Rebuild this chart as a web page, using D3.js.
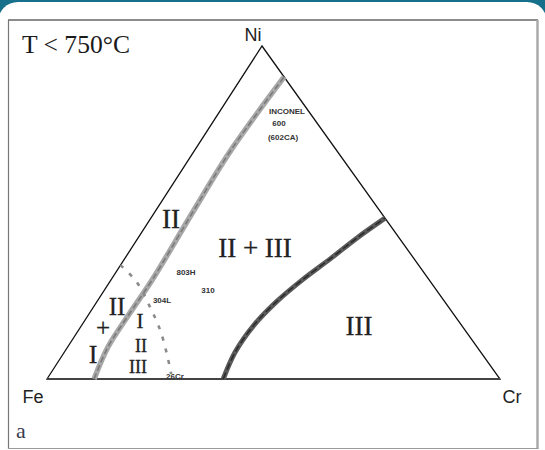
<!DOCTYPE html>
<html>
<head>
<meta charset="utf-8">
<script src="https://cdn.jsdelivr.net/npm/d3@7"></script>
<style>
  html, body { margin: 0; padding: 0; background: #16708c; }
  svg { display: block; }
</style>
</head>
<body>
<svg id="chart" width="545" height="450"></svg>
<script>
// ---- data (compositions in wt.%: Ni, Cr; Fe = balance) ----
const vertexNames = ["Fe", "Ni", "Cr"];
const vertexNi = [0, 100, 0];
const vertexCr = [0, 0, 100];

// boundary I / II (gray band)
const band1Ni = [0, 9.6, 19.8, 29.7, 50, 68.8, 90.7];
const band1Cr = [10.4, 8.9, 8.9, 9.1, 8.4, 8.0, 9.3];

// boundary II+III / III
const band2Ni = [0, 8.1, 16.2, 23.1, 29.7, 36.3, 42.3, 48.3];
const band2Cr = [38.9, 37.7, 38.0, 39.6, 42.2, 45.5, 48.3, 51.7];

// dashed line (towards 26Cr)
const dashNi = [34.2, 29.1, 21.6, 14.7, 7.2, 1.5];
const dashCr = [0, 6.0, 12.5, 18.0, 23.1, 26.7];

const regionLabels = ["II", "II + III", "III", "II", "+", "I", "I", "II", "III"];
const alloyLabels = ["INCONEL", "600", "(602CA)", "803H", "310", "304L", "26Cr"];

// ---- drawing ----
const svg = d3.select("#chart");

// white rounded panel on teal background
svg.append("rect").attr("x", 0).attr("y", 0).attr("width", 545).attr("height", 450).attr("fill", "#16708c");
svg.append("rect").attr("x", -2).attr("y", 2).attr("width", 549).attr("height", 470).attr("rx", 20).attr("fill", "#ffffff");

// frame
svg.append("line").attr("x1", 8).attr("x2", 538).attr("y1", 20).attr("y2", 20).attr("stroke", "#666").attr("stroke-width", 1.6);
svg.append("line").attr("x1", 8.5).attr("x2", 8.5).attr("y1", 20).attr("y2", 449).attr("stroke", "#777").attr("stroke-width", 1.2);
svg.append("line").attr("x1", 537.5).attr("x2", 537.5).attr("y1", 20).attr("y2", 449).attr("stroke", "#aaa").attr("stroke-width", 2.5);
svg.append("line").attr("x1", 8).attr("x2", 538).attr("y1", 448.5).attr("y2", 448.5).attr("stroke", "#999").attr("stroke-width", 1.2);

// ternary projection via linear scales
const FE = [47, 379], NI = [262, 46], CR = [500, 379];
const yNi = d3.scaleLinear().domain([0, 100]).range([FE[1], NI[1]]);
const xCr = d3.scaleLinear().domain([0, 100]).range([0, CR[0] - FE[0]]);
const xNi = d3.scaleLinear().domain([0, 100]).range([0, NI[0] - FE[0]]);
const proj = (ni, cr) => [FE[0] + xCr(cr) + xNi(ni), yNi(ni)];

const pts = (nis, crs) => nis.map((n, i) => proj(n, crs[i]));

// triangle
const tri = pts(vertexNi, vertexCr);
svg.append("path")
  .attr("d", d3.line()(tri) + "Z")
  .attr("fill", "none").attr("stroke", "#111").attr("stroke-width", 1.3)
  .attr("stroke-linejoin", "miter");
// base a bit heavier
svg.append("line").attr("x1", tri[0][0]).attr("y1", tri[0][1]).attr("x2", tri[2][0]).attr("y2", tri[2][1])
  .attr("stroke", "#444").attr("stroke-width", 1.8);

const curve = d3.line().curve(d3.curveCatmullRom.alpha(0.5));

// band 1 (light gray thick)
const b1 = pts(band1Ni, band1Cr);
svg.append("path").attr("d", curve(b1)).attr("fill", "none").attr("stroke", "#a8a8a8").attr("stroke-width", 5.5).attr("stroke-linecap", "butt");
svg.append("path").attr("d", curve(b1)).attr("fill", "none").attr("stroke", "#7a7a7a").attr("stroke-width", 1.6).attr("stroke-dasharray", "6,3");

// band 2 (darker)
const b2 = pts(band2Ni, band2Cr);
svg.append("path").attr("d", curve(b2)).attr("fill", "none").attr("stroke", "#5a5a5a").attr("stroke-width", 5).attr("stroke-linecap", "butt");
svg.append("path").attr("d", curve(b2)).attr("fill", "none").attr("stroke", "#2a2a2a").attr("stroke-width", 1.5).attr("stroke-dasharray", "7,3");

// dashed line
const dl = pts(dashNi, dashCr);
svg.append("path").attr("d", curve(dl)).attr("fill", "none").attr("stroke", "#8a8a8a").attr("stroke-width", 2.6).attr("stroke-dasharray", "4,8");

// vertex labels
const vlabPos = [[33, 403], [253, 41], [512, 403]];
svg.selectAll("text.vlab").data(vertexNames).enter().append("text")
  .attr("class", "vlab")
  .attr("x", (d, i) => vlabPos[i][0]).attr("y", (d, i) => vlabPos[i][1])
  .attr("text-anchor", "middle")
  .attr("font-family", "Liberation Sans, Arial, sans-serif")
  .attr("font-size", 18).attr("fill", "#222")
  .text(d => d);

// title
svg.append("text").attr("x", 22).attr("y", 53)
  .attr("font-family", "Liberation Serif, Times New Roman, serif")
  .attr("font-size", 26).attr("fill", "#1a1a1a")
  .attr("textLength", 108).attr("lengthAdjust", "spacingAndGlyphs")
  .text("T < 750°C");

// panel letter
svg.append("text").attr("x", 16).attr("y", 438)
  .attr("font-family", "Liberation Serif, Times New Roman, serif")
  .attr("font-size", 22).attr("fill", "#3a3a50")
  .text("a");

// region labels
const regPos = [[171, 228, 27], [255, 257, 27], [359, 335, 27], [117, 315, 25], [103, 336, 25], [93, 363, 26], [140, 328, 21], [141, 352, 18], [138, 373, 18]];
svg.selectAll("text.reg").data(regionLabels).enter().append("text")
  .attr("class", "reg")
  .attr("x", (d, i) => regPos[i][0]).attr("y", (d, i) => regPos[i][1])
  .attr("text-anchor", "middle")
  .attr("font-family", "Liberation Serif, Times New Roman, serif")
  .attr("font-size", (d, i) => regPos[i][2]).attr("fill", "#222")
  .attr("stroke", "#222").attr("stroke-width", 0.3)
  .text(d => d);

// alloy labels
const alloyPos = [[287, 114], [279, 126], [283, 140], [186, 275], [208, 293], [162, 303], [175, 379]];
svg.selectAll("text.alloy").data(alloyLabels).enter().append("text")
  .attr("class", "alloy")
  .attr("x", (d, i) => alloyPos[i][0]).attr("y", (d, i) => alloyPos[i][1])
  .attr("text-anchor", "middle")
  .attr("font-family", "Liberation Sans, Arial, sans-serif")
  .attr("font-size", 8).attr("font-weight", "bold").attr("fill", "#333")
  .text(d => d);
</script>
</body>
</html>
